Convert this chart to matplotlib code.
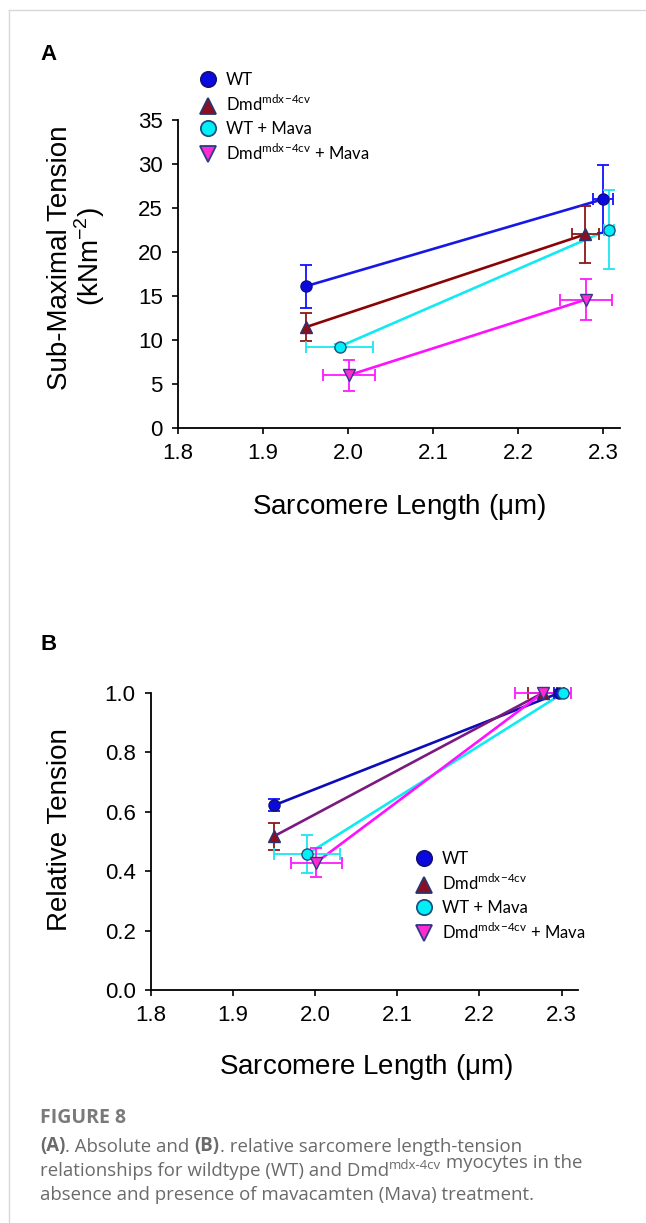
import numpy as np
import matplotlib
matplotlib.use("Agg")
import matplotlib.pyplot as plt
from matplotlib.lines import Line2D

plt.rcParams['font.family'] = ['Liberation Sans', 'DejaVu Sans']
plt.rcParams['mathtext.fontset'] = 'custom'
plt.rcParams['mathtext.rm'] = 'Liberation Sans'

# ---- data ----
groups = ["WT", "Dmd", "WT + Mava", "Dmd + Mava"]

# panel A: absolute sub-maximal tension (kN m^-2)
a_x = [[1.95, 2.300], [1.95, 2.279], [1.99, 2.307], [2.001, 2.280]]
a_y = [[16.1, 26.0], [11.45, 22.0], [9.25, 22.55], [6.0, 14.6]]
a_yerr = [[2.45, 3.85], [1.6, 3.25], [0.3, 4.45], [1.78, 2.3]]
a_xerr = [[0.0, 0.012], [0.0, 0.016], [0.04, 0.006], [0.031, 0.031]]

# panel B: relative tension
b_x = [[1.95, 2.297], [1.95, 2.277], [1.99, 2.302], [2.001, 2.277]]
b_y = [[0.622, 1.0], [0.518, 1.0], [0.457, 1.0], [0.429, 1.0]]
b_yerr = [[0.02, 0.0], [0.045, 0.0], [0.064, 0.0], [0.05, 0.0]]
b_xerr = [[0.0, 0.006], [0.0, 0.018], [0.04, 0.0], [0.031, 0.034]]

xticks = [1.8, 1.9, 2.0, 2.1, 2.2, 2.3]
a_yticks = [0, 5, 10, 15, 20, 25, 30, 35]
b_yticks = [0.0, 0.2, 0.4, 0.6, 0.8, 1.0]

markers = ['o', '^', 'o', 'v']
face = ['#0a0ae0', '#8e0d20', '#00f0f8', '#ff2ad0']
edge = ['#10107a', '#2a3470', '#1f4f80', '#2c3a8a']
ecol = ['#1010ff', '#8b1818', '#1ae6f0', '#ff1aff']
a_line = ['#1717e8', '#8a0404', '#12eaf2', '#ff10ff']
b_line = ['#0c0cb8', '#7a1a80', '#12eaf2', '#ff10ff']

legend_labels = ["WT", r"Dmd$^{\mathregular{mdx\!-\!4cv}}$", "WT + Mava",
                 r"Dmd$^{\mathregular{mdx\!-\!4cv}}$ + Mava"]

W, H = 646, 1223
fig = plt.figure(figsize=(W / 100, H / 100), dpi=100)


def fx(px):
    return px / W


def fy(py):
    return 1 - py / H


def draw_panel(ax, xs, ys, yerrs, xerrs, lcol, ymax, yticks, yfmt):
    for i in range(4):
        ax.plot(xs[i], ys[i], color=lcol[i], lw=1.9, zorder=2,
                solid_capstyle='butt')
    for i in range(4):
        for j in range(2):
            if yerrs[i][j] > 0:
                ax.errorbar(xs[i][j], ys[i][j], yerr=yerrs[i][j], fmt='none',
                            ecolor=ecol[i], elinewidth=1.3, capsize=4,
                            capthick=1.3, zorder=3, clip_on=False)
            if xerrs[i][j] > 0:
                ax.errorbar(xs[i][j], ys[i][j], xerr=xerrs[i][j], fmt='none',
                            ecolor=ecol[i], elinewidth=1.3, capsize=4,
                            capthick=1.3, zorder=3, clip_on=False)
    for i in range(4):
        ax.plot(xs[i], ys[i], ls='none', marker=markers[i], ms=8,
                mfc=face[i], mec=edge[i], mew=1.0, zorder=4, clip_on=False)
    ax.set_xlim(1.8, 2.32)
    ax.set_ylim(0, ymax)
    ax.set_xticks(xticks)
    ax.set_xticklabels(["%.1f" % v for v in xticks])
    ax.set_yticks(yticks)
    ax.set_yticklabels([yfmt % v for v in yticks])
    for s in ['top', 'right']:
        ax.spines[s].set_visible(False)
    for s in ['left', 'bottom']:
        ax.spines[s].set_linewidth(1.3)
    ax.tick_params(length=4, width=1.2, labelsize=16, pad=7)
    ax.patch.set_alpha(0)


def make_legend(x0, y0):
    handles = [Line2D([], [], ls='none', marker=markers[i], ms=11,
                      mfc=face[i], mec=edge[i], mew=1.3) for i in range(4)]
    fig.legend(handles, legend_labels, loc='upper left',
               bbox_to_anchor=(fx(x0), fy(y0)), frameon=False,
               prop={'family': 'Lato', 'size': 12}, handlelength=1.0,
               handletextpad=0.55, labelspacing=0.38, borderpad=0,
               borderaxespad=0)


# ---- panel A ----
axA = fig.add_axes([fx(178), fy(428), fx(620) - fx(178), fy(120) - fy(428)])
draw_panel(axA, a_x, a_y, a_yerr, a_xerr, a_line, 35, a_yticks, "%d")
fig.text(fx(40), fy(55), "A", fontsize=16, fontweight='bold', ha='left',
         va='center')
fig.text(fx(60), fy(258), "Sub-Maximal Tension", fontsize=20, rotation=90,
         ha='center', va='center')
fig.text(fx(90), fy(256), r"(kNm$^{\mathregular{-2}}$)", fontsize=20,
         rotation=90, ha='center', va='center')
fig.text(fx(399), fy(507), r"Sarcomere Length ($\mathregular{\mu}$m)",
         fontsize=20, ha='center', va='center')
make_legend(200, 72)

# ---- panel B ----
axB = fig.add_axes([fx(151), fy(990), fx(578) - fx(151), fy(693) - fy(990)])
draw_panel(axB, b_x, b_y, b_yerr, b_xerr, b_line, 1.0, b_yticks, "%.1f")
fig.text(fx(40), fy(645), "B", fontsize=16, fontweight='bold', ha='left',
         va='center')
fig.text(fx(60), fy(830), "Relative Tension", fontsize=20, rotation=90,
         ha='center', va='center')
fig.text(fx(366), fy(1067), r"Sarcomere Length ($\mathregular{\mu}$m)",
         fontsize=20, ha='center', va='center')
make_legend(416, 851)

# ---- caption ----
cap_col = '#6a6a6a'
cap_kw = dict(family='Open Sans', fontsize=13.4, color=cap_col)


def rich_line(x, y, parts):
    t = None
    for txt, bold, sup in parts:
        kw = dict(cap_kw)
        if bold:
            kw['fontweight'] = 'bold'
        if sup:
            kw['fontsize'] = 9.5
        if t is None:
            t = fig.text(fx(x), fy(y), txt, ha='left', va='bottom', **kw)
        else:
            t = fig.axes[0].annotate(txt, xy=(1, 0.45 if sup else 0),
                                     xycoords=t, ha='left', va='bottom',
                                     annotation_clip=False, **kw)
    return t


fig.text(fx(40), fy(1118), "FIGURE 8", family='Open Sans', fontsize=14,
         fontweight='bold', color='#7a7a7a', ha='left', va='center',
         fontstretch='condensed')
rich_line(40, 1156, [("(A)", True, False),
                     (". Absolute and ", False, False),
                     ("(B)", True, False),
                     (". relative sarcomere length-tension", False, False)])
rich_line(40, 1180, [("relationships for wildtype (WT) and Dmd", False, False),
                     ("mdx-4cv", False, True),
                     (" myocytes in the", False, False)])
rich_line(40, 1204, [("absence and presence of mavacamten (Mava) treatment.",
                      False, False)])

# light frame lines at left and top
fig.add_artist(Line2D([fx(9), fx(9)], [0, fy(10)], color='#d8d8d8', lw=1))
fig.add_artist(Line2D([fx(9), 1], [fy(10), fy(10)], color='#d8d8d8', lw=1))

fig.savefig("out.png", dpi=100)
